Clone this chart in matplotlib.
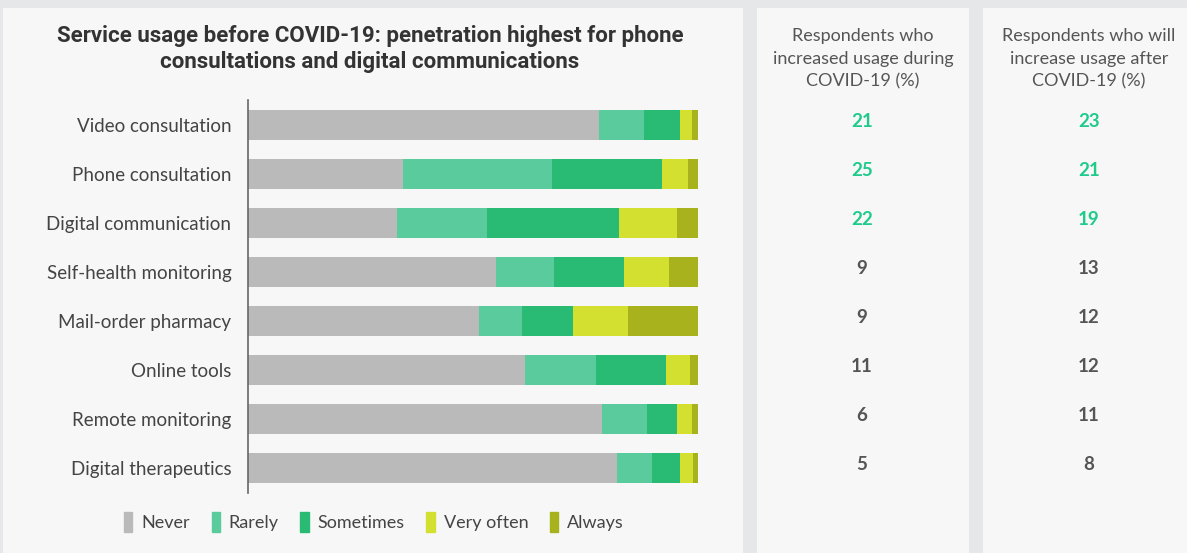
import matplotlib.pyplot as plt
import matplotlib.patches as mpatches
from matplotlib import transforms

services = ["Video consultation", "Phone consultation", "Digital communication",
            "Self-health monitoring", "Mail-order pharmacy", "Online tools",
            "Remote monitoring", "Digital therapeutics"]
levels = ["Never", "Rarely", "Sometimes", "Very often", "Always"]
never = [77.9, 34.5, 33.0, 55.1, 51.3, 61.6, 78.7, 81.9]
rarely = [10.1, 33.1, 20.0, 12.8, 9.6, 15.8, 10.0, 7.9]
sometimes = [8.0, 24.4, 29.4, 15.6, 11.4, 15.5, 6.7, 6.2]
very_often = [2.6, 5.8, 12.9, 10.0, 12.2, 5.4, 3.3, 2.9]
always = [1.4, 2.2, 4.7, 6.4, 15.6, 1.8, 1.4, 1.1]
increased_during = [21, 25, 22, 9, 9, 11, 6, 5]
increase_after = [23, 21, 19, 13, 12, 12, 11, 8]
highlight = [True, True, True, False, False, False, False, False]

colors = ["#bababa", "#5acb9c", "#29bb74", "#d4e030", "#a8b21c"]
bg = "#e6e7e9"
panel = "#f7f7f7"
text_col = "#444444"
green_txt = "#1fcb8b"

W, H = 1187, 553
fig = plt.figure(figsize=(W / 100, H / 100), dpi=100, facecolor=bg)

# panels (drawn behind everything)
for x0, x1 in [(3, 743), (757, 969), (983, 1195)]:
    fig.patches.append(mpatches.Rectangle((x0 / W, 0), (x1 - x0) / W, 1 - 8 / H,
                                          transform=fig.transFigure, facecolor=panel,
                                          edgecolor="none", zorder=-5))

ax = fig.add_axes([248 / W, 1 - 493 / H, 450 / W, 393 / H])
ax.patch.set_alpha(0)

series = [never, rarely, sometimes, very_often, always]
ypos = list(range(len(services)))
left = [0] * len(services)
for vals, c, name in zip(series, colors, levels):
    ax.barh(ypos, vals, left=left, height=0.61, color=c, label=name,
            edgecolor="none")
    left = [l + v for l, v in zip(left, vals)]

ax.set_xlim(0, 100)
ax.set_ylim(len(services) - 0.5, -0.5)
ax.set_yticks(ypos)
ax.set_yticklabels(services, fontsize=13.5, color=text_col, family="Lato")
ax.tick_params(axis="y", length=0, pad=12)
ax.set_xticks([])
for s in ["top", "right", "bottom"]:
    ax.spines[s].set_visible(False)
ax.spines["left"].set_color("#666666")
ax.spines["left"].set_linewidth(1.2)

fig.text(370 / W, 1 - 49 / H,
         "Service usage before COVID-19: penetration highest for phone\nconsultations and digital communications",
         ha="center", va="center", fontsize=16, fontweight="bold", color="#333333",
         family=["Liberation Sans Narrow", "Roboto"], linespacing=1.2)

# side panel headers
fig.text(863 / W, 1 - 59 / H, "Respondents who\nincreased usage during\nCOVID-19 (%)",
         ha="center", va="center", fontsize=13, color="#555555", family="Lato",
         linespacing=1.5)
fig.text(1089 / W, 1 - 59 / H, "Respondents who will\nincrease usage after\nCOVID-19 (%)",
         ha="center", va="center", fontsize=13, color="#555555", family="Lato",
         linespacing=1.5)

tr = transforms.blended_transform_factory(fig.transFigure, ax.transData)
for i in ypos:
    c = green_txt if highlight[i] else "#555555"
    fig.text(862 / W, i - 0.07, str(increased_during[i]), transform=tr, ha="center",
             va="center", fontsize=13.5, fontweight="bold", color=c, family="Lato")
    fig.text(1089 / W, i - 0.07, str(increase_after[i]), transform=tr, ha="center",
             va="center", fontsize=13.5, fontweight="bold", color=c, family="Lato")

handles = [mpatches.Rectangle((0, 0), 1, 1, color=c) for c in colors]
leg = fig.legend(handles, levels, loc="center", bbox_to_anchor=(374 / W, 1 - 522 / H),
                 ncol=5, frameon=False, handlelength=0.45, handleheight=1.3,
                 handletextpad=0.5, columnspacing=1.2,
                 prop={"family": "Lato", "size": 13})
for t in leg.get_texts():
    t.set_color(text_col)

fig.savefig("out.png", dpi=100, facecolor=bg)
